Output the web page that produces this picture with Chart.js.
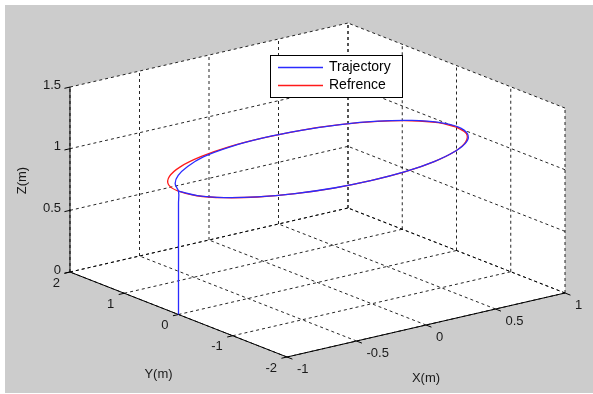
<!DOCTYPE html>
<html>
<head>
<meta charset="utf-8">
<script src="https://cdn.jsdelivr.net/npm/chart.js@4"></script>
<style>
  body { margin: 0; background: #ffffff; }
</style>
</head>
<body>
<canvas id="chart3d" width="593" height="394"></canvas>
<script>
// axis ticks
const xTicks = [-1, -0.5, 0, 0.5, 1];
const yTicks = [-2, -1, 0, 1, 2];
const zTicks = [0, 0.5, 1, 1.5];

// reference circle
const refX = [1, 0.97, 0.87, 0.71, 0.5, 0.26, 0, -0.26, -0.5, -0.71, -0.87, -0.97, -1, -0.97, -0.87, -0.71, -0.5, -0.26, 0, 0.26, 0.5, 0.71, 0.87, 0.97, 1];
const refY = [0, 0.26, 0.5, 0.71, 0.87, 0.97, 1, 0.97, 0.87, 0.71, 0.5, 0.26, 0, -0.26, -0.5, -0.71, -0.87, -0.97, -1, -0.97, -0.87, -0.71, -0.5, -0.26, 0];
const refZ = [1, 1, 1, 1, 1, 1, 1, 1, 1, 1, 1, 1, 1, 1, 1, 1, 1, 1, 1, 1, 1, 1, 1, 1, 1];

// flown trajectory: climb at (-1,0), then loop
const trajX = [-1, -1, -1, -0.927, -0.818, -0.672, -0.49, -0.258, 0, 0.259, 0.503, 0.714, 0.875, 0.976, 1.01, 0.976, 0.875, 0.71, 0.5, 0.259, 0, -0.259, -0.5, -0.707, -0.866, -0.966, -1];
const trajY = [0, 0, 0, 0.249, 0.472, 0.672, 0.849, 0.961, 1, 0.966, 0.87, 0.714, 0.505, 0.262, 0, -0.262, -0.505, -0.71, -0.868, -0.968, -1, -0.966, -0.866, -0.707, -0.5, -0.259, 0];
const trajZ = [0, 0.9, 1, 1, 1, 1, 1, 1, 1, 1, 1, 1, 1, 1, 1, 1, 1, 1, 1, 1, 1, 1, 1, 1, 1, 1, 1];

// view (projection of the 3D box onto the page)
const view = { ox: 70, oy: 272, ex: [139, -32], ey: [-54.25, -21.25], ez: [0, -123.3] };
const xMin = xTicks[0], xMax = xTicks[xTicks.length - 1];
const yMin = yTicks[0], yMax = yTicks[yTicks.length - 1];
const zMin = zTicks[0], zMax = zTicks[zTicks.length - 1];

function proj(x, y, z) {
    var dx = x - xMin, dy = y - yMax;
    return {
        x: view.ox + view.ex[0] * dx + view.ey[0] * dy + view.ez[0] * z,
        y: view.oy + view.ex[1] * dx + view.ey[1] * dy + view.ez[1] * z
    };
}

function line3d(a, b, style) {
    return Object.assign({
        data: [proj(a[0], a[1], a[2]), proj(b[0], b[1], b[2])],
        showLine: true,
        pointRadius: 0,
        tension: 0
    }, style);
}

const gridStyle = { borderColor: "rgba(0,0,0,0.85)", borderWidth: 1, borderDash: [3, 3], order: 50 };
const axisStyle = { borderColor: "#000000", borderWidth: 1, order: 40 };

var datasets = [];

datasets.push({
    label: "Trajectory",
    data: trajX.map((x, i) => proj(x, trajY[i], trajZ[i])),
    showLine: true, pointRadius: 0, tension: 0.4,
    borderColor: "#2b2bff", borderWidth: 1.3, order: 0
});
datasets.push({
    label: "Refrence",
    data: refX.map((x, i) => proj(x, refY[i], refZ[i])),
    showLine: true, pointRadius: 0, tension: 0.4,
    borderColor: "#ff1a1a", borderWidth: 1.3, order: 1
});

// grid on back wall (y = max), right wall (x = max) and floor (z = min)
zTicks.forEach(z => {
    datasets.push(line3d([xMin, yMax, z], [xMax, yMax, z], gridStyle));
    datasets.push(line3d([xMax, yMin, z], [xMax, yMax, z], gridStyle));
});
xTicks.forEach(x => {
    datasets.push(line3d([x, yMax, zMin], [x, yMax, zMax], gridStyle));
    datasets.push(line3d([x, yMin, zMin], [x, yMax, zMin], gridStyle));
});
yTicks.forEach(y => {
    datasets.push(line3d([xMax, y, zMin], [xMax, y, zMax], gridStyle));
    datasets.push(line3d([xMin, y, zMin], [xMax, y, zMin], gridStyle));
});

// axes and tick marks
datasets.push(line3d([xMin, yMax, zMin], [xMin, yMax, zMax], axisStyle));
datasets.push(line3d([xMin, yMin, zMin], [xMin, yMax, zMin], axisStyle));
datasets.push(line3d([xMin, yMin, zMin], [xMax, yMin, zMin], axisStyle));
zTicks.forEach(z => datasets.push(line3d([xMin, yMax, z], [xMin - 0.04, yMax, z], axisStyle)));
yTicks.forEach(y => datasets.push(line3d([xMin, y, zMin], [xMin - 0.04, y, zMin], axisStyle)));
xTicks.forEach(x => datasets.push(line3d([x, yMin, zMin], [x, yMin - 0.1, zMin], axisStyle)));

const FONT = '13px "Liberation Sans", Arial, sans-serif';

const framePlugin = {
    id: "frame",
    beforeDraw(chart) {
        const ctx = chart.ctx;
        const sx = chart.scales.x, sy = chart.scales.y;
        ctx.save();
        ctx.fillStyle = "#ffffff";
        ctx.fillRect(0, 0, chart.width, chart.height);
        ctx.fillStyle = "#cccccc";
        ctx.fillRect(5, 5, chart.width - 5, chart.height - 6);
        // white axes background
        const corners = [
            [xMin, yMax, zMin], [xMin, yMin, zMin], [xMax, yMin, zMin],
            [xMax, yMin, zMax], [xMax, yMax, zMax], [xMin, yMax, zMax]
        ];
        ctx.beginPath();
        corners.forEach((c, i) => {
            const p = proj(c[0], c[1], c[2]);
            const px = sx.getPixelForValue(p.x), py = sy.getPixelForValue(p.y);
            if (i === 0) ctx.moveTo(px, py); else ctx.lineTo(px, py);
        });
        ctx.closePath();
        ctx.fillStyle = "#ffffff";
        ctx.fill();
        ctx.restore();
    },
    afterDatasetsDraw(chart) {
        const ctx = chart.ctx;
        const sx = chart.scales.x, sy = chart.scales.y;
        function px(p) { return [sx.getPixelForValue(p.x), sy.getPixelForValue(p.y)]; }
        ctx.save();
        ctx.font = FONT;
        ctx.fillStyle = "#1a1a1a";
        ctx.textBaseline = "middle";

        ctx.textAlign = "right";
        zTicks.forEach(z => {
            const p = px(proj(xMin, yMax, z));
            ctx.fillText(String(z), p[0] - 9, p[1] - 2);
        });
        yTicks.forEach(y => {
            const p = px(proj(xMin, y, zMin));
            ctx.fillText(String(y), p[0] - 10, p[1] + 11);
        });
        ctx.textAlign = "left";
        xTicks.forEach(x => {
            const p = px(proj(x, yMin, zMin));
            ctx.fillText(String(x), p[0] + 10, p[1] + 12.5);
        });

        // axis titles
        ctx.textAlign = "center";
        const yl = px(proj(xMin, (yMin + yMax) / 2, zMin));
        ctx.fillText("Y(m)", yl[0] - 20, yl[1] + 60);
        const xl = px(proj((xMin + xMax) / 2, yMin, zMin));
        ctx.fillText("X(m)", xl[0], xl[1] + 53);
        const zl = px(proj(xMin, yMax, (zMin + zMax) / 2));
        ctx.save();
        ctx.translate(zl[0] - 48, zl[1] + 1);
        ctx.rotate(-Math.PI / 2);
        ctx.fillText("Z(m)", 0, 0);
        ctx.restore();

        // legend
        const lx = 270, ly = 55, lw = 132, lh = 42;
        ctx.fillStyle = "#ffffff";
        ctx.fillRect(lx, ly, lw, lh);
        ctx.strokeStyle = "#000000";
        ctx.lineWidth = 1;
        ctx.strokeRect(lx + 0.5, ly + 0.5, lw, lh);
        const items = [datasets[0], datasets[1]];
        ctx.font = '14px "Liberation Sans", Arial, sans-serif';
        ctx.textAlign = "left";
        items.forEach((d, i) => {
            const yy = ly + 12.5 + i * 18;
            ctx.strokeStyle = d.borderColor;
            ctx.lineWidth = 1.3;
            ctx.beginPath();
            ctx.moveTo(lx + 8, yy);
            ctx.lineTo(lx + 53, yy);
            ctx.stroke();
            ctx.fillStyle = "#000000";
            ctx.fillText(d.label, lx + 59, yy);
        });
        ctx.restore();
    }
};

new Chart("chart3d", {
    type: "scatter",
    data: { datasets: datasets },
    options: {
        responsive: false,
        animation: false,
        events: [],
        layout: { padding: 0 },
        plugins: { legend: { display: false }, tooltip: { enabled: false } },
        scales: {
            x: { type: "linear", min: 0, max: 593, display: false },
            y: { type: "linear", min: 0, max: 394, reverse: true, display: false }
        }
    },
    plugins: [framePlugin]
});
</script>
</body>
</html>
